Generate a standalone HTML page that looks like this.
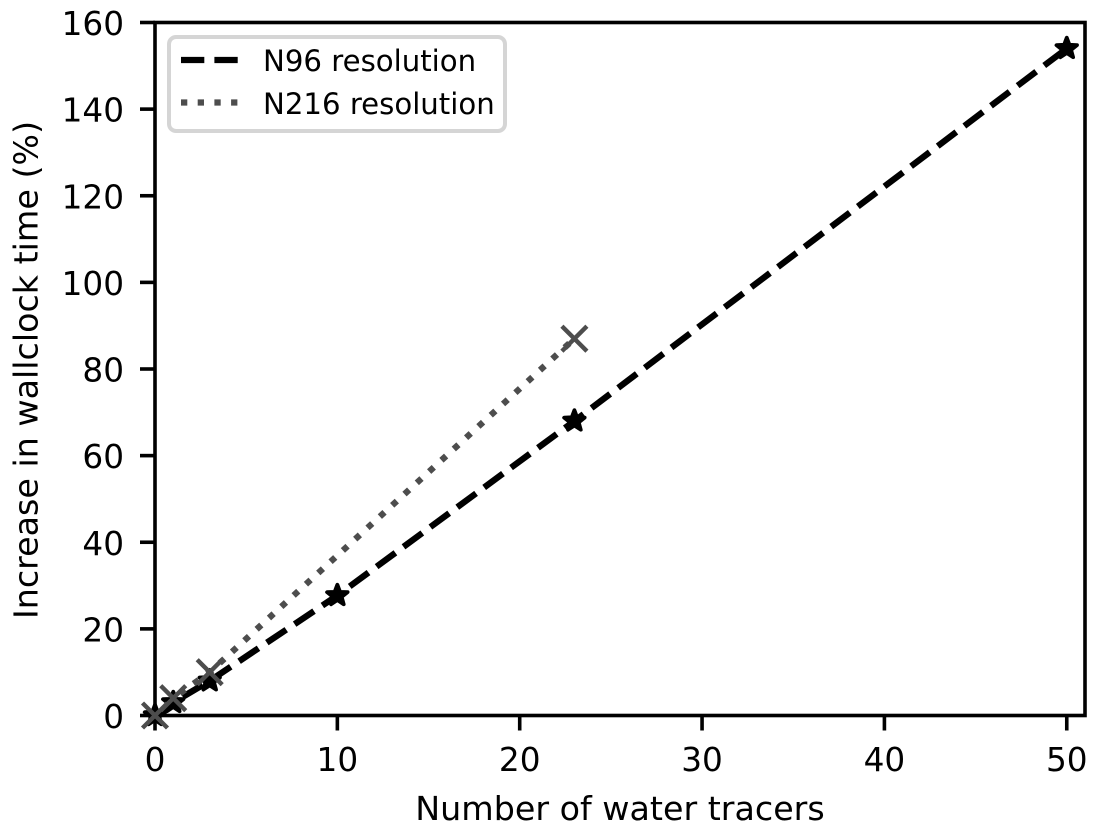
<!DOCTYPE html>
<html lang="en">
<head>
<meta charset="utf-8">
<title>Increase in wallclock time vs number of water tracers</title>
<style>
html,body{margin:0;padding:0;background:#fff;}
svg{display:block;font-family:"DejaVu Sans","Liberation Sans",sans-serif;}
</style>
</head>
<body>
<svg id="chart" xmlns="http://www.w3.org/2000/svg" width="1099" height="832" viewBox="0 0 1099 832"></svg>
<script>
const xTickLabels = [0, 10, 20, 30, 40, 50];
const yTickLabels = [0, 20, 40, 60, 80, 100, 120, 140, 160];
const n96Tracers = [0, 1, 3, 10, 23, 50];
const n96Increase = [0, 3, 8, 27.7, 68, 154];
const n216Tracers = [0, 1, 3, 23];
const n216Increase = [0, 4, 10, 87];

const NS = 'http://www.w3.org/2000/svg';
const svg = document.getElementById('chart');
const plot = {left: 155, right: 1085, top: 22.5, bottom: 715.5};
const xMin = 0, xMax = 51, yMin = 0, yMax = 160;
function xScale(v) { return plot.left + (v - xMin) / (xMax - xMin) * (plot.right - plot.left); }
function yScale(v) { return plot.bottom - (v - yMin) / (yMax - yMin) * (plot.bottom - plot.top); }
function make(tag, attrs, parent) {
  const el = document.createElementNS(NS, tag);
  for (const k in attrs) el.setAttribute(k, attrs[k]);
  (parent || svg).appendChild(el);
  return el;
}
const TICK_FONT = 32.7, LABEL_FONT = 33.3, LEGEND_FONT = 29.2;
const STROKE = 3.6;
const N96_COLOR = '#000000', N216_COLOR = '#4d4d4d';
const LW = 6.3;

const bg = make('rect', {x: 0, y: 0, width: 1099, height: 832, fill: '#ffffff'});



const defs = make('defs', {});
const clip = make('clipPath', {id: 'plot-clip'}, defs);
make('rect', {x: plot.left, y: plot.top, width: plot.right - plot.left, height: plot.bottom - plot.top}, clip);

// Series lines
function linePoints(xs, ys) {
  return xs.map((x, i) => xScale(x).toFixed(2) + ',' + yScale(ys[i]).toFixed(2)).join(' ');
}
const lineN96 = make('polyline', {points: linePoints(n96Tracers, n96Increase), fill: 'none', stroke: N96_COLOR, 'stroke-width': LW, 'stroke-dasharray': (3.7 * LW) + ' ' + (1.6 * LW), 'clip-path': 'url(#plot-clip)'});


const lineN216 = make('polyline', {points: linePoints(n216Tracers, n216Increase), fill: 'none', stroke: N216_COLOR, 'stroke-width': LW, 'stroke-dasharray': LW + ' ' + (1.65 * LW), 'clip-path': 'url(#plot-clip)'});



// Ticks and tick labels
xTickLabels.forEach(v => {
  const px = xScale(v);
  const tick = make('line', {x1: px, x2: px, y1: plot.bottom, y2: plot.bottom + 15, stroke: '#000', 'stroke-width': STROKE});
  
  
  const label = make('text', {x: px, y: 771, 'text-anchor': 'middle', 'font-size': TICK_FONT, fill: '#000'});
  label.textContent = v;
  
  
});
yTickLabels.forEach(v => {
  const py = yScale(v);
  const tick = make('line', {x1: plot.left - 15, x2: plot.left, y1: py, y2: py, stroke: '#000', 'stroke-width': STROKE});
  
  
  const label = make('text', {x: 124, y: py + 12.5, 'text-anchor': 'end', 'font-size': TICK_FONT, fill: '#000'});
  label.textContent = v;
  
  
});

// Spines
const frame = make('rect', {x: plot.left, y: plot.top, width: plot.right - plot.left, height: plot.bottom - plot.top, fill: 'none', stroke: '#000', 'stroke-width': STROKE});



// Markers (drawn unclipped above the frame)
function starPath(cx, cy, R) {
  const r = R * 0.42;
  let d = '';
  for (let i = 0; i < 10; i++) {
    const rad = i % 2 === 0 ? R : r;
    const a = -Math.PI / 2 + i * Math.PI / 5;
    d += (i ? 'L' : 'M') + (cx + rad * Math.cos(a)).toFixed(2) + ' ' + (cy + rad * Math.sin(a)).toFixed(2);
  }
  return d + 'Z';
}
n96Tracers.forEach((x, i) => {
  const star = make('path', {d: starPath(xScale(x), yScale(n96Increase[i]), 10.8), fill: N96_COLOR, stroke: N96_COLOR, 'stroke-width': 3.8, 'stroke-linejoin': 'round'});
  
  
});
n216Tracers.forEach((x, i) => {
  const cx = xScale(x), cy = yScale(n216Increase[i]), h = 12.5;
  const cross = make('path', {d: 'M' + (cx - h) + ' ' + (cy - h) + 'L' + (cx + h) + ' ' + (cy + h) + 'M' + (cx - h) + ' ' + (cy + h) + 'L' + (cx + h) + ' ' + (cy - h), fill: 'none', stroke: N216_COLOR, 'stroke-width': 4.4});
  
  
});

// Axis titles
const xTitle = make('text', {x: 620, y: 820, 'text-anchor': 'middle', 'font-size': LABEL_FONT, fill: '#000'});
xTitle.textContent = 'Number of water tracers';


const yTitle = make('text', {x: 0, y: 0, transform: 'translate(37.5,370) rotate(-90)', 'text-anchor': 'middle', 'font-size': LABEL_FONT, fill: '#000'});
yTitle.textContent = 'Increase in wallclock time (%)';



// Legend
const legendGroup = make('g', {});


const legendBox = make('rect', {x: 169, y: 37, width: 336, height: 94, rx: 7, ry: 7, fill: '#ffffff', stroke: '#d5d5d5', 'stroke-width': 4}, legendGroup);


const legendLine1 = make('line', {x1: 181, x2: 239, y1: 60, y2: 60, stroke: N96_COLOR, 'stroke-width': LW, 'stroke-dasharray': (3.7 * LW) + ' ' + (1.6 * LW)}, legendGroup);


const legendText1 = make('text', {x: 263, y: 71, 'font-size': LEGEND_FONT, fill: '#000'}, legendGroup);
legendText1.textContent = 'N96 resolution';


const legendLine2 = make('line', {x1: 181, x2: 239, y1: 102.5, y2: 102.5, stroke: N216_COLOR, 'stroke-width': LW, 'stroke-dasharray': LW + ' ' + (1.65 * LW)}, legendGroup);


const legendText2 = make('text', {x: 263, y: 114, 'font-size': LEGEND_FONT, fill: '#000'}, legendGroup);
legendText2.textContent = 'N216 resolution';


</script>
</body>
</html>
